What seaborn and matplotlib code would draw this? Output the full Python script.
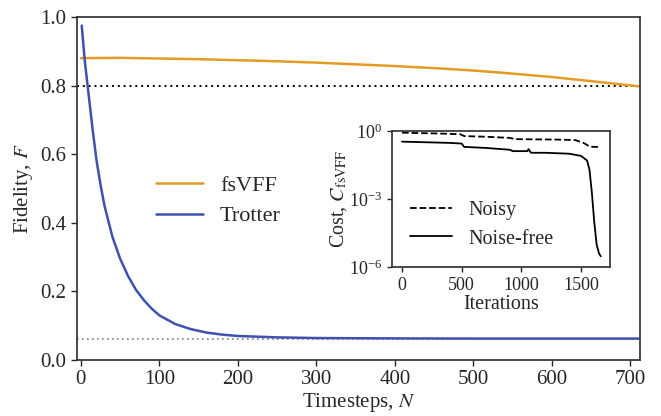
import matplotlib

matplotlib.use("Agg")
import matplotlib.pyplot as plt
import pandas as pd
import seaborn as sns
from matplotlib.ticker import NullLocator

# main panel: fidelity vs timesteps
steps_vff = [0, 50, 100, 150, 200, 250, 300, 350, 400, 450, 500, 550, 600, 650, 710]
fid_vff = [0.880, 0.881, 0.879, 0.877, 0.874, 0.871, 0.867, 0.862, 0.857,
           0.851, 0.844, 0.835, 0.825, 0.813, 0.798]

steps_trot = [1, 5, 10, 15, 20, 25, 30, 40, 50, 60, 70, 80, 90, 100, 120, 140,
              160, 180, 200, 250, 300, 400, 500, 600, 710]
fid_trot = [0.975, 0.87, 0.77, 0.67, 0.58, 0.51, 0.45, 0.36, 0.295, 0.245,
            0.205, 0.175, 0.150, 0.130, 0.105, 0.090, 0.080, 0.074, 0.070,
            0.066, 0.064, 0.063, 0.0625, 0.0625, 0.0625]

target_fid = 0.8
mixed_fid = 0.0625

# inset: cost vs iterations
iters_noisy = [0, 100, 200, 300, 400, 490, 520, 700, 900, 950, 1100, 1300,
               1450, 1520, 1570, 1600, 1660]
cost_noisy = [0.85, 0.82, 0.80, 0.78, 0.75, 0.72, 0.60, 0.56, 0.50, 0.44,
              0.43, 0.42, 0.40, 0.30, 0.21, 0.20, 0.20]

iters_free = [0, 200, 400, 500, 520, 700, 900, 930, 1050, 1060, 1080, 1200,
              1400, 1500, 1550, 1570, 1590, 1610, 1630, 1650, 1665]
cost_free = [0.34, 0.32, 0.30, 0.28, 0.20, 0.18, 0.15, 0.13, 0.13, 0.16,
             0.11, 0.11, 0.10, 0.08, 0.05, 0.02, 2e-3, 1e-4, 1e-5, 4e-6, 3e-6]

ORANGE = "#E39B24"
BLUE = "#3F51B0"

sns.set_theme(style="ticks")
plt.rcParams["font.family"] = ["Liberation Serif", "DejaVu Serif"]
plt.rcParams["mathtext.fontset"] = "stix"
plt.rcParams["axes.edgecolor"] = "#333333"

fig = plt.figure(figsize=(6.61, 4.16), dpi=100, facecolor="white")
ax = fig.add_axes([0.1165, 0.1346, 0.8515, 0.8245])

df_vff = pd.DataFrame({"N": steps_vff, "F": fid_vff})
df_trot = pd.DataFrame({"N": steps_trot, "F": fid_trot})

ax.axhline(target_fid, color="black", ls=(0, (1, 2)), lw=1.4)
ax.axhline(mixed_fid, color="grey", ls=(0, (1, 2)), lw=1.2)
sns.lineplot(data=df_vff, x="N", y="F", ax=ax, color=ORANGE, lw=1.8, label="fsVFF")
sns.lineplot(data=df_trot, x="N", y="F", ax=ax, color=BLUE, lw=1.8, label="Trotter")

ax.set_xlim(-5, 712)
ax.set_ylim(0, 1.0)
ax.set_xticks([0, 100, 200, 300, 400, 500, 600, 700])
ax.set_yticks([0.0, 0.2, 0.4, 0.6, 0.8, 1.0])
ax.set_xlabel("Timesteps, $N$", fontsize=15, labelpad=1)
ax.set_ylabel("Fidelity, $F$", fontsize=15)
ax.tick_params(axis="both", labelsize=15, direction="out", length=4, width=1)
ax.legend(loc="center left", bbox_to_anchor=(0.104, 0.464), frameon=False,
          fontsize=16, handlelength=2.15, handletextpad=0.75, labelspacing=0.45)

ins = fig.add_axes([0.593, 0.358, 0.330, 0.327])
df_noisy = pd.DataFrame({"it": iters_noisy, "C": cost_noisy})
df_free = pd.DataFrame({"it": iters_free, "C": cost_free})
sns.lineplot(data=df_noisy, x="it", y="C", ax=ins, color="black", lw=1.3,
             ls="--", label="Noisy")
sns.lineplot(data=df_free, x="it", y="C", ax=ins, color="black", lw=1.3,
             label="Noise-free")
ins.set_yscale("log")
ins.set_ylim(1e-6, 1)
ins.set_xlim(-84, 1743)
ins.set_xticks([0, 500, 1000, 1500])
ins.set_yticks([1e-6, 1e-3, 1e0])
ins.yaxis.set_minor_locator(NullLocator())
ins.set_xlabel("Iterations", fontsize=14.5, labelpad=1)
ins.set_ylabel(r"Cost, $C_{\rm fsVFF}$", fontsize=14.5, labelpad=0)
ins.tick_params(axis="both", labelsize=13, direction="out", length=3.5, width=1)
ins.legend(loc="center left", bbox_to_anchor=(0.0, 0.31), frameon=False,
           fontsize=14.5, handlelength=2.1, handletextpad=0.8, labelspacing=0.45)

fig.savefig("out.png", dpi=100, facecolor="white")
